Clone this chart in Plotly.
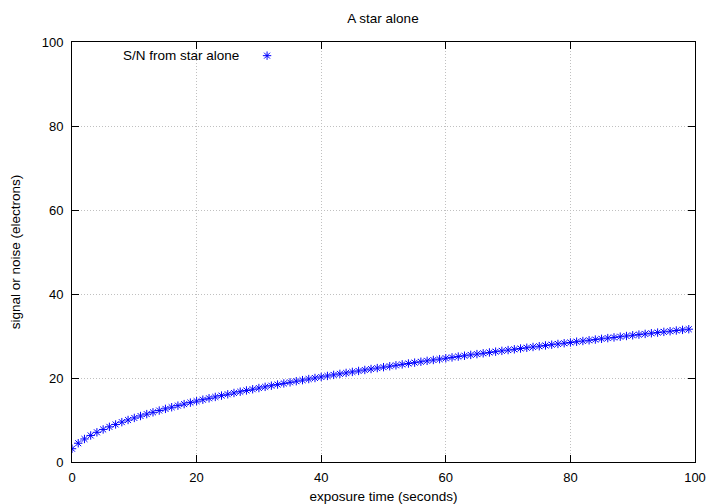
import plotly.graph_objects as go

exposure_time = list(range(100))
sn_star = [3.16, 4.47, 5.48, 6.32, 7.07, 7.75, 8.37, 8.94, 9.49, 10.00,
           10.49, 10.95, 11.40, 11.83, 12.25, 12.65, 13.04, 13.42, 13.78, 14.14,
           14.49, 14.83, 15.17, 15.49, 15.81, 16.12, 16.43, 16.73, 17.03, 17.32,
           17.61, 17.89, 18.17, 18.44, 18.71, 18.97, 19.24, 19.49, 19.75, 20.00,
           20.25, 20.49, 20.74, 20.98, 21.21, 21.45, 21.68, 21.91, 22.14, 22.36,
           22.58, 22.80, 23.02, 23.24, 23.45, 23.66, 23.87, 24.08, 24.29, 24.49,
           24.70, 24.90, 25.10, 25.30, 25.50, 25.69, 25.88, 26.08, 26.27, 26.46,
           26.65, 26.83, 27.02, 27.20, 27.39, 27.57, 27.75, 27.93, 28.11, 28.28,
           28.46, 28.64, 28.81, 28.98, 29.15, 29.33, 29.50, 29.66, 29.83, 30.00,
           30.17, 30.33, 30.50, 30.66, 30.82, 30.98, 31.14, 31.30, 31.46, 31.62]
x_ticks = [0, 20, 40, 60, 80, 100]
y_ticks = [0, 20, 40, 60, 80, 100]

title = "A star alone"
series_name = "S/N from star alone"

FONT = "Liberation Sans, Arial, sans-serif"
FS = 13.5
TFS = 13

fig = go.Figure()
fig.add_trace(go.Scatter(
    x=exposure_time, y=sn_star, mode="markers", name=" ",
    marker=dict(symbol="asterisk-open", size=7, color="#0000ff",
                line=dict(color="#0000ff", width=1)),
    showlegend=True,
))

axis_common = dict(
    showline=True, linecolor="black", linewidth=1, mirror="ticks",
    ticks="inside", ticklen=7, tickcolor="black", tickwidth=1,
    showgrid=True, gridcolor="#c0c0c0", griddash="1px,2px", gridwidth=1,
    zeroline=False, automargin=False,
    tickfont=dict(family=FONT, size=TFS, color="black"),
)

fig.update_layout(
    width=712, height=496,
    paper_bgcolor="white", plot_bgcolor="white",
    margin=dict(l=64, r=25, t=34, b=42),
    title=dict(text=title, x=(375) / 712, xanchor="center", y=1 - 10 / 496,
               yanchor="middle",
               font=dict(family=FONT, size=FS, color="black")),
    xaxis=dict(range=[0, 100], tickvals=x_ticks, ticklabelstandoff=3,
               title=dict(text="exposure time (seconds)", standoff=11,
                          font=dict(family=FONT, size=FS, color="black")),
               **axis_common),
    yaxis=dict(range=[0, 100], tickvals=y_ticks, ticklabelstandoff=5,
               title=dict(text="signal or noise (electrons)", standoff=26,
                          font=dict(family=FONT, size=FS, color="black")),
               **axis_common),
    legend=dict(x=0.281, y=1.002, xanchor="left", yanchor="top",
                bgcolor="rgba(0,0,0,0)", font=dict(family=FONT, size=12),
                itemwidth=30),
    annotations=[dict(text=series_name, xref="paper", yref="paper",
                      x=(241 - 72) / 623, y=(462 - 55) / 420,
                      xanchor="right", yanchor="middle",
                      showarrow=False,
                      font=dict(family=FONT, size=FS, color="black"))],
)

fig.write_html("out.html")
